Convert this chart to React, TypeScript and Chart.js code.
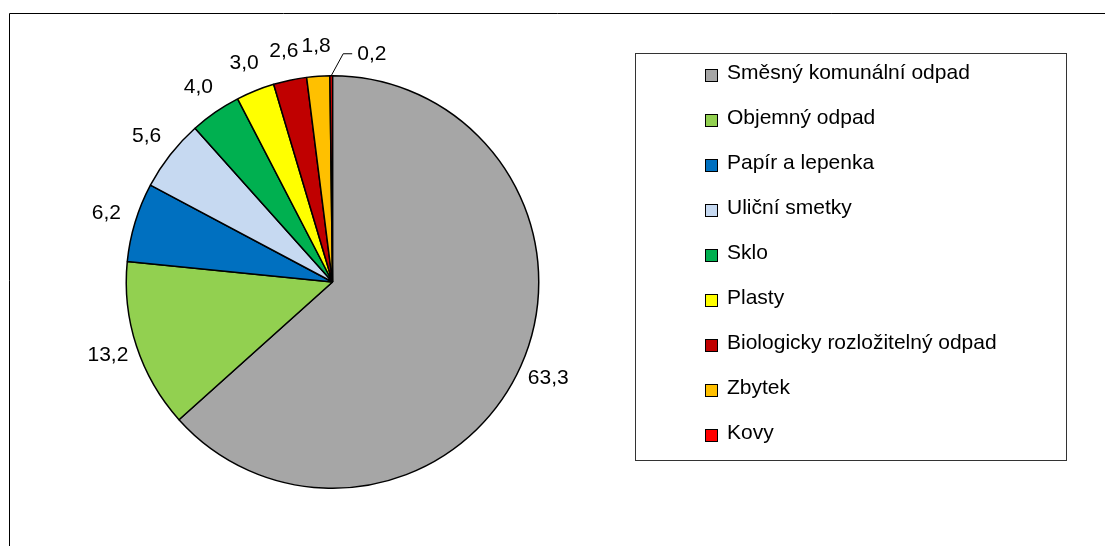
import React, { useEffect, useRef } from "react";
import { Chart, registerables } from "chart.js";

Chart.register(...registerables);

const categories = [
  "Směsný komunální odpad",
  "Objemný odpad",
  "Papír a lepenka",
  "Uliční smetky",
  "Sklo",
  "Plasty",
  "Biologicky rozložitelný odpad",
  "Zbytek",
  "Kovy",
];
const values = [63.3, 13.2, 6.2, 5.6, 4.0, 3.0, 2.6, 1.8, 0.2];
const valueLabels = ["63,3", "13,2", "6,2", "5,6", "4,0", "3,0", "2,6", "1,8", "0,2"];
const colors = [
  "#A6A6A6",
  "#92D050",
  "#0070C0",
  "#C6D9F1",
  "#00B050",
  "#FFFF00",
  "#C00000",
  "#FFC000",
  "#FF0000",
];

const FONT = '21px "Liberation Sans", Arial, sans-serif';

const decorPlugin = {
  id: "decor",
  beforeDraw(chart: any) {
    const ctx = chart.ctx;
    ctx.save();
    ctx.fillStyle = "#ffffff";
    ctx.fillRect(0, 0, chart.width, chart.height);
    ctx.strokeStyle = "#000000";
    ctx.lineWidth = 1;
    ctx.beginPath();
    ctx.moveTo(9.5, chart.height + 5);
    ctx.lineTo(9.5, 13.5);
    ctx.lineTo(chart.width + 5, 13.5);
    ctx.stroke();
    ctx.restore();
  },
  afterDraw(chart: any) {
    const ctx = chart.ctx;
    const meta = chart.getDatasetMeta(0);
    ctx.save();
    ctx.font = FONT;
    ctx.fillStyle = "#000000";
    ctx.textBaseline = "middle";
    meta.data.forEach((arc: any, i: number) => {
      const p = arc.getProps(["x", "y", "startAngle", "endAngle", "outerRadius"], true);
      const mid = (p.startAngle + p.endAngle) / 2;
      if (values[i] < 1) {
        const ex = p.x + Math.cos(mid) * p.outerRadius;
        const ey = p.y + Math.sin(mid) * p.outerRadius;
        ctx.strokeStyle = "#000000";
        ctx.lineWidth = 1;
        ctx.beginPath();
        ctx.moveTo(ex, ey);
        ctx.lineTo(ex + 12, ey - 22);
        ctx.lineTo(ex + 21, ey - 22);
        ctx.stroke();
        ctx.textAlign = "left";
        ctx.fillText(valueLabels[i], ex + 26, ey - 22);
      } else {
        const d = p.outerRadius + 30;
        ctx.textAlign = "center";
        ctx.fillText(valueLabels[i], p.x + Math.cos(mid) * d, p.y + Math.sin(mid) * d);
      }
    });

    // legend
    ctx.strokeStyle = "#333333";
    ctx.lineWidth = 1;
    ctx.strokeRect(635.5, 53.5, 431, 407);
    categories.forEach((name, i) => {
      const y = 75.5 + 45 * i;
      ctx.fillStyle = colors[i];
      ctx.fillRect(705, y - 6.5, 13, 13);
      ctx.strokeStyle = "#000000";
      ctx.strokeRect(705.5, y - 6, 12, 12);
      ctx.fillStyle = "#000000";
      ctx.textAlign = "left";
      ctx.fillText(name, 727, y - 2);
    });
    ctx.restore();
  },
};

export default function App() {
  const canvasRef = useRef<HTMLCanvasElement | null>(null);

  useEffect(() => {
    if (!canvasRef.current) return;
    const chart = new Chart(canvasRef.current, {
      type: "pie",
      data: {
        labels: categories,
        datasets: [
          {
            data: values,
            backgroundColor: colors,
            borderColor: "#000000",
            borderWidth: 1.5,
          },
        ],
      },
      options: {
        responsive: false,
        animation: false,
        events: [],
        layout: { padding: { left: 125, right: 565, top: 75, bottom: 57 } },
        plugins: {
          legend: { display: false },
          tooltip: { enabled: false },
        },
      },
      plugins: [decorPlugin],
    });
    return () => chart.destroy();
  }, []);

  return (
    <div style={{ position: "absolute", left: 0, top: 0, width: 1105, height: 546, background: "#fff" }}>
      <canvas ref={canvasRef} width={1105} height={546} />
    </div>
  );
}
